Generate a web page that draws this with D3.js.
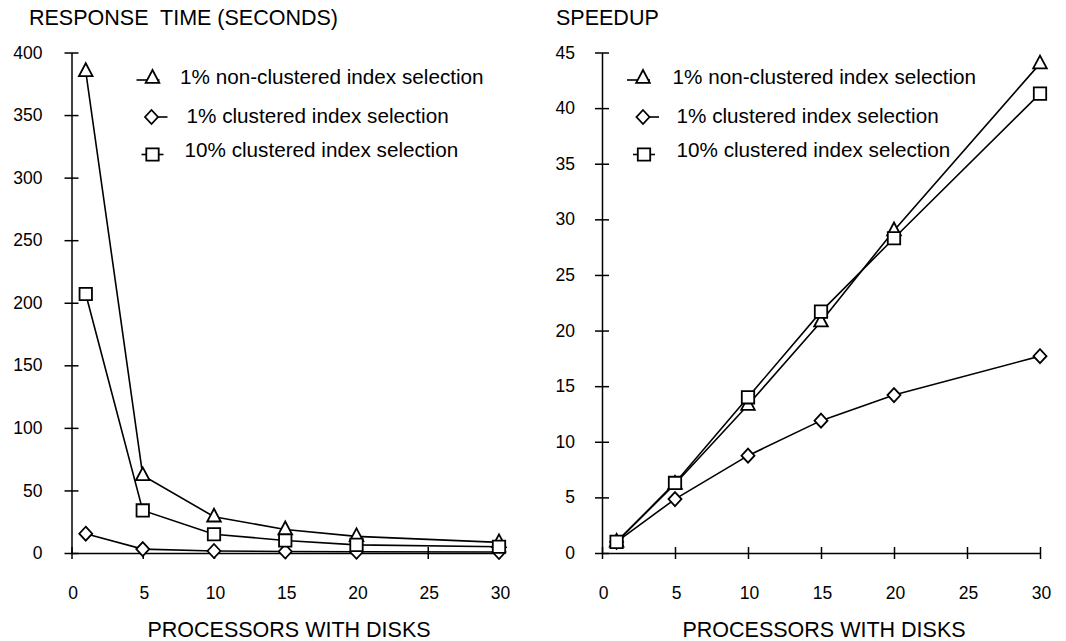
<!DOCTYPE html>
<html>
<head>
<meta charset="utf-8">
<script src="https://cdn.jsdelivr.net/npm/d3@7"></script>
<style>
  body { margin: 0; background: #fff; }
  svg text { font-family: "Liberation Sans", Arial, sans-serif; fill: #000; }
</style>
</head>
<body>
<div id="graph"></div>
<script>
// DATA
const processors = [1, 5, 10, 15, 20, 30]
const seriesNames = ["1% non-clustered index selection", "1% clustered index selection", "10% clustered index selection"]
const seriesShapes = ["triangle", "diamond", "square"]

// Response time (seconds)
const respNonClustered1 = [385, 62, 29, 18.8, 13.3, 8.5]
const respClustered1 = [15.4, 3.1, 1.6, 1.2, 1, 0.8]
const respClustered10 = [207, 34, 15, 10, 6.5, 5]

// Speedup
const speedNonClustered1 = [1, 6.2, 13.3, 20.8, 29, 44]
const speedClustered1 = [1, 4.85, 8.75, 11.9, 14.2, 17.7]
const speedClustered10 = [1, 6.3, 14, 21.7, 28.3, 41.3]

const xTicks = [0, 5, 10, 15, 20, 25, 30]
const respTicks = [0, 50, 100, 150, 200, 250, 300, 350, 400]
const speedTicks = [0, 5, 10, 15, 20, 25, 30, 35, 40, 45]

// Set graph dimensions
const width = 1066, height = 641
const svg = d3.select('#graph').append("svg").attr("width", width).attr("height", height)

// marker shapes, centred on the point
const shapes = {
  triangle: "M0,-8L6.8,4.8L-6.8,4.8Z",
  diamond: "M0,-7L6.5,0L0,7L-6.5,0Z",
  square: "M-6.2,-6.2h12.4v12.4h-12.4Z"
}

// legend: symbol centre, line extent around it, text offset
const legendRows = [
  { y: 78, line: [-16, 7], dy: 6 },
  { y: 117, line: [0, 16], dy: 6 },
  { y: 154.5, line: [-11, 11], dy: 2.5 }
]

function drawChart(opt) {
  const x = d3.scaleLinear().domain([0, 30]).range(opt.xRange)
  const y = d3.scaleLinear().domain(opt.yDomain).range([553, 52.5])

  // y axis, ticks crossing the axis
  const yAxis = svg.append("g")
    .attr("transform", `translate(${opt.xRange[0]},0)`)
    .call(d3.axisLeft(y).tickValues(opt.yTicks).tickSize(7).tickSizeOuter(0).tickPadding(opt.yPad))
  yAxis.selectAll(".tick line").attr("x1", 7)
  yAxis.selectAll(".tick text").attr("font-size", 17.5).attr("font-family", null)

  // x axis
  const xAxis = svg.append("g")
    .attr("transform", `translate(0,553)`)
    .call(d3.axisBottom(x).tickValues(xTicks).tickSize(6).tickSizeOuter(0).tickPadding(28))
  xAxis.selectAll(".tick line").attr("y1", -6)
  xAxis.selectAll(".tick text").attr("font-size", 17.5).attr("font-family", null).attr("dx", 1)

  svg.selectAll(".domain, .tick line").attr("stroke", "#000").attr("stroke-width", 1.5)

  // titles
  svg.append("text").attr("x", opt.titleX).attr("y", 25)
    .attr("font-size", 21.5).attr("xml:space", "preserve").style("white-space", "pre")
    .text(opt.title)
  svg.append("text").attr("x", opt.labelX).attr("y", 637)
    .attr("font-size", 21.5).attr("text-anchor", "middle")
    .text("PROCESSORS WITH DISKS")

  // lines and markers
  const line = d3.line().x((d, i) => x(processors[i])).y(d => y(d))
  opt.series.forEach((vals, s) => {
    svg.append("path").attr("d", line(vals))
      .attr("fill", "none").attr("stroke", "#000").attr("stroke-width", 1.6)
  })
  opt.series.forEach((vals, s) => {
    svg.append("g").selectAll("path").data(vals).join("path")
      .attr("transform", (d, i) => `translate(${x(processors[i])},${y(d)})`)
      .attr("d", shapes[seriesShapes[s]])
      .attr("fill", "#fff").attr("stroke", "#000").attr("stroke-width", 1.8)
  })

  // legend
  legendRows.forEach((row, i) => {
    const cx = opt.legendX + opt.symbolOff[i]
    svg.append("line")
      .attr("x1", cx + row.line[0]).attr("x2", cx + row.line[1])
      .attr("y1", row.y + (i == 0 ? 2 : 0)).attr("y2", row.y + (i == 0 ? 2 : 0))
      .attr("stroke", "#000").attr("stroke-width", 1.6)
    svg.append("path").attr("transform", `translate(${cx},${row.y})`)
      .attr("d", shapes[seriesShapes[i]])
      .attr("fill", "#fff").attr("stroke", "#000").attr("stroke-width", 1.8)
    svg.append("text").attr("x", opt.legendX + opt.textOff[i]).attr("y", row.y + row.dy)
      .attr("font-size", 20.7)
      .text(seriesNames[i])
  })
}

drawChart({
  title: "RESPONSE  TIME (SECONDS)", titleX: 29, labelX: 289,
  xRange: [71.5, 499], yDomain: [0, 400], yTicks: respTicks, yPad: 22,
  series: [respNonClustered1, respClustered1, respClustered10],
  legendX: 152.5, symbolOff: [0, -1, 0], textOff: [27.5, 34, 32]
})

drawChart({
  title: "SPEEDUP", titleX: 556, labelX: 824,
  xRange: [602, 1040], yDomain: [0, 45], yTicks: speedTicks, yPad: 20,
  series: [speedNonClustered1, speedClustered1, speedClustered10],
  legendX: 643, symbolOff: [0, 0, 1], textOff: [29.5, 33.5, 33.5]
})
</script>
</body>
</html>
